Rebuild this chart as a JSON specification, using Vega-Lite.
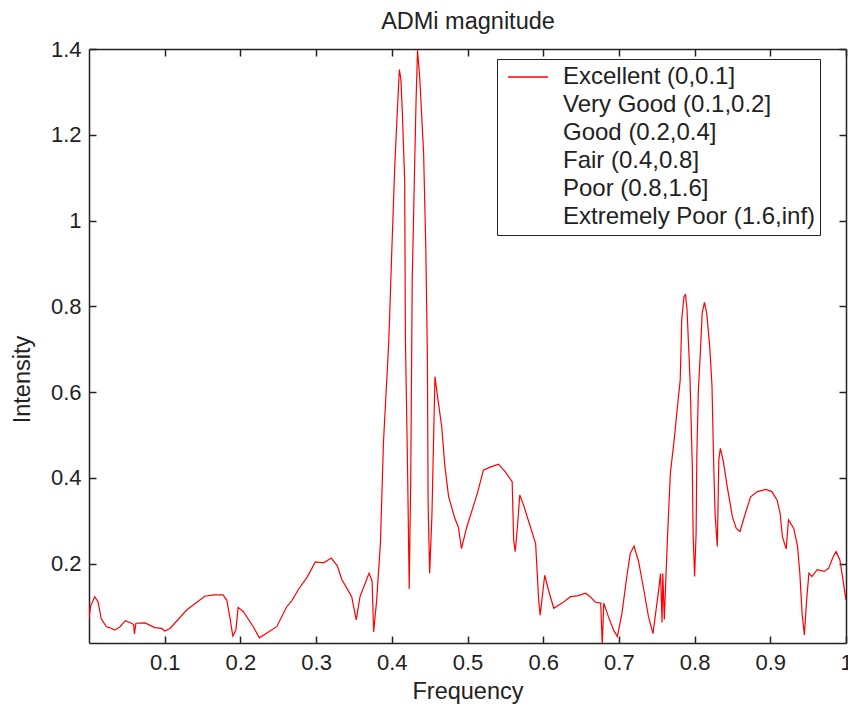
{
  "$schema": "https://vega.github.io/schema/vega-lite/v6.json",
  "width": 757,
  "height": 594,
  "autosize": "none",
  "padding": {"left": 89, "top": 49, "right": 2, "bottom": 64},
  "background": "white",
  "config": {
    "view": {"stroke": null},
    "font": "Liberation Sans",
    "axis": {"grid": false, "domainColor": "#222", "domainWidth": 1.5, "tickColor": "#222", "tickWidth": 1.5, "labelColor": "#222", "labelFontSize": 22, "titleColor": "#222", "titleFontSize": 23.5, "titleFontWeight": "normal", "labelFont": "Liberation Sans", "titleFont": "Liberation Sans"}
  },
  "data": {"values": [
    {"f":0.000,"v":0.072,"s":"Excellent (0,0.1]"},
    {"f":0.002,"v":0.100,"s":"Excellent (0,0.1]"},
    {"f":0.0075,"v":0.123,"s":"Excellent (0,0.1]"},
    {"f":0.012,"v":0.111,"s":"Excellent (0,0.1]"},
    {"f":0.016,"v":0.072,"s":"Excellent (0,0.1]"},
    {"f":0.023,"v":0.053,"s":"Excellent (0,0.1]"},
    {"f":0.027,"v":0.051,"s":"Excellent (0,0.1]"},
    {"f":0.034,"v":0.045,"s":"Excellent (0,0.1]"},
    {"f":0.041,"v":0.053,"s":"Excellent (0,0.1]"},
    {"f":0.048,"v":0.067,"s":"Excellent (0,0.1]"},
    {"f":0.056,"v":0.061,"s":"Excellent (0,0.1]"},
    {"f":0.059,"v":0.058,"s":"Excellent (0,0.1]"},
    {"f":0.060,"v":0.036,"s":"Excellent (0,0.1]"},
    {"f":0.062,"v":0.061,"s":"Excellent (0,0.1]"},
    {"f":0.074,"v":0.062,"s":"Excellent (0,0.1]"},
    {"f":0.087,"v":0.051,"s":"Excellent (0,0.1]"},
    {"f":0.096,"v":0.049,"s":"Excellent (0,0.1]"},
    {"f":0.100,"v":0.043,"s":"Excellent (0,0.1]"},
    {"f":0.107,"v":0.049,"s":"Excellent (0,0.1]"},
    {"f":0.129,"v":0.092,"s":"Excellent (0,0.1]"},
    {"f":0.153,"v":0.124,"s":"Excellent (0,0.1]"},
    {"f":0.165,"v":0.127,"s":"Excellent (0,0.1]"},
    {"f":0.177,"v":0.127,"s":"Excellent (0,0.1]"},
    {"f":0.182,"v":0.115,"s":"Excellent (0,0.1]"},
    {"f":0.186,"v":0.076,"s":"Excellent (0,0.1]"},
    {"f":0.190,"v":0.031,"s":"Excellent (0,0.1]"},
    {"f":0.194,"v":0.045,"s":"Excellent (0,0.1]"},
    {"f":0.197,"v":0.098,"s":"Excellent (0,0.1]"},
    {"f":0.204,"v":0.088,"s":"Excellent (0,0.1]"},
    {"f":0.217,"v":0.053,"s":"Excellent (0,0.1]"},
    {"f":0.225,"v":0.027,"s":"Excellent (0,0.1]"},
    {"f":0.234,"v":0.037,"s":"Excellent (0,0.1]"},
    {"f":0.248,"v":0.053,"s":"Excellent (0,0.1]"},
    {"f":0.261,"v":0.099,"s":"Excellent (0,0.1]"},
    {"f":0.268,"v":0.114,"s":"Excellent (0,0.1]"},
    {"f":0.277,"v":0.141,"s":"Excellent (0,0.1]"},
    {"f":0.288,"v":0.168,"s":"Excellent (0,0.1]"},
    {"f":0.299,"v":0.204,"s":"Excellent (0,0.1]"},
    {"f":0.310,"v":0.202,"s":"Excellent (0,0.1]"},
    {"f":0.320,"v":0.213,"s":"Excellent (0,0.1]"},
    {"f":0.328,"v":0.195,"s":"Excellent (0,0.1]"},
    {"f":0.334,"v":0.163,"s":"Excellent (0,0.1]"},
    {"f":0.347,"v":0.123,"s":"Excellent (0,0.1]"},
    {"f":0.353,"v":0.069,"s":"Excellent (0,0.1]"},
    {"f":0.358,"v":0.123,"s":"Excellent (0,0.1]"},
    {"f":0.370,"v":0.178,"s":"Excellent (0,0.1]"},
    {"f":0.374,"v":0.159,"s":"Excellent (0,0.1]"},
    {"f":0.376,"v":0.041,"s":"Excellent (0,0.1]"},
    {"f":0.380,"v":0.114,"s":"Excellent (0,0.1]"},
    {"f":0.385,"v":0.249,"s":"Excellent (0,0.1]"},
    {"f":0.389,"v":0.483,"s":"Excellent (0,0.1]"},
    {"f":0.396,"v":0.717,"s":"Excellent (0,0.1]"},
    {"f":0.400,"v":0.929,"s":"Excellent (0,0.1]"},
    {"f":0.404,"v":1.131,"s":"Excellent (0,0.1]"},
    {"f":0.407,"v":1.244,"s":"Excellent (0,0.1]"},
    {"f":0.410,"v":1.352,"s":"Excellent (0,0.1]"},
    {"f":0.412,"v":1.330,"s":"Excellent (0,0.1]"},
    {"f":0.414,"v":1.249,"s":"Excellent (0,0.1]"},
    {"f":0.417,"v":1.095,"s":"Excellent (0,0.1]"},
    {"f":0.418,"v":0.726,"s":"Excellent (0,0.1]"},
    {"f":0.421,"v":0.402,"s":"Excellent (0,0.1]"},
    {"f":0.423,"v":0.141,"s":"Excellent (0,0.1]"},
    {"f":0.425,"v":0.397,"s":"Excellent (0,0.1]"},
    {"f":0.427,"v":0.861,"s":"Excellent (0,0.1]"},
    {"f":0.430,"v":1.114,"s":"Excellent (0,0.1]"},
    {"f":0.432,"v":1.276,"s":"Excellent (0,0.1]"},
    {"f":0.434,"v":1.397,"s":"Excellent (0,0.1]"},
    {"f":0.437,"v":1.330,"s":"Excellent (0,0.1]"},
    {"f":0.442,"v":1.159,"s":"Excellent (0,0.1]"},
    {"f":0.445,"v":0.929,"s":"Excellent (0,0.1]"},
    {"f":0.447,"v":0.681,"s":"Excellent (0,0.1]"},
    {"f":0.448,"v":0.339,"s":"Excellent (0,0.1]"},
    {"f":0.450,"v":0.177,"s":"Excellent (0,0.1]"},
    {"f":0.453,"v":0.312,"s":"Excellent (0,0.1]"},
    {"f":0.455,"v":0.474,"s":"Excellent (0,0.1]"},
    {"f":0.457,"v":0.636,"s":"Excellent (0,0.1]"},
    {"f":0.461,"v":0.582,"s":"Excellent (0,0.1]"},
    {"f":0.466,"v":0.519,"s":"Excellent (0,0.1]"},
    {"f":0.470,"v":0.429,"s":"Excellent (0,0.1]"},
    {"f":0.475,"v":0.357,"s":"Excellent (0,0.1]"},
    {"f":0.483,"v":0.307,"s":"Excellent (0,0.1]"},
    {"f":0.488,"v":0.285,"s":"Excellent (0,0.1]"},
    {"f":0.492,"v":0.235,"s":"Excellent (0,0.1]"},
    {"f":0.499,"v":0.285,"s":"Excellent (0,0.1]"},
    {"f":0.507,"v":0.330,"s":"Excellent (0,0.1]"},
    {"f":0.513,"v":0.364,"s":"Excellent (0,0.1]"},
    {"f":0.521,"v":0.418,"s":"Excellent (0,0.1]"},
    {"f":0.530,"v":0.425,"s":"Excellent (0,0.1]"},
    {"f":0.541,"v":0.432,"s":"Excellent (0,0.1]"},
    {"f":0.550,"v":0.414,"s":"Excellent (0,0.1]"},
    {"f":0.559,"v":0.391,"s":"Excellent (0,0.1]"},
    {"f":0.561,"v":0.255,"s":"Excellent (0,0.1]"},
    {"f":0.563,"v":0.228,"s":"Excellent (0,0.1]"},
    {"f":0.566,"v":0.286,"s":"Excellent (0,0.1]"},
    {"f":0.569,"v":0.360,"s":"Excellent (0,0.1]"},
    {"f":0.574,"v":0.337,"s":"Excellent (0,0.1]"},
    {"f":0.583,"v":0.286,"s":"Excellent (0,0.1]"},
    {"f":0.590,"v":0.247,"s":"Excellent (0,0.1]"},
    {"f":0.594,"v":0.115,"s":"Excellent (0,0.1]"},
    {"f":0.596,"v":0.080,"s":"Excellent (0,0.1]"},
    {"f":0.602,"v":0.173,"s":"Excellent (0,0.1]"},
    {"f":0.607,"v":0.138,"s":"Excellent (0,0.1]"},
    {"f":0.614,"v":0.096,"s":"Excellent (0,0.1]"},
    {"f":0.625,"v":0.108,"s":"Excellent (0,0.1]"},
    {"f":0.636,"v":0.123,"s":"Excellent (0,0.1]"},
    {"f":0.645,"v":0.125,"s":"Excellent (0,0.1]"},
    {"f":0.656,"v":0.131,"s":"Excellent (0,0.1]"},
    {"f":0.662,"v":0.123,"s":"Excellent (0,0.1]"},
    {"f":0.669,"v":0.110,"s":"Excellent (0,0.1]"},
    {"f":0.676,"v":0.108,"s":"Excellent (0,0.1]"},
    {"f":0.678,"v":0.010,"s":"Excellent (0,0.1]"},
    {"f":0.680,"v":0.108,"s":"Excellent (0,0.1]"},
    {"f":0.686,"v":0.077,"s":"Excellent (0,0.1]"},
    {"f":0.693,"v":0.045,"s":"Excellent (0,0.1]"},
    {"f":0.698,"v":0.030,"s":"Excellent (0,0.1]"},
    {"f":0.704,"v":0.084,"s":"Excellent (0,0.1]"},
    {"f":0.711,"v":0.177,"s":"Excellent (0,0.1]"},
    {"f":0.715,"v":0.224,"s":"Excellent (0,0.1]"},
    {"f":0.720,"v":0.241,"s":"Excellent (0,0.1]"},
    {"f":0.726,"v":0.205,"s":"Excellent (0,0.1]"},
    {"f":0.733,"v":0.138,"s":"Excellent (0,0.1]"},
    {"f":0.739,"v":0.077,"s":"Excellent (0,0.1]"},
    {"f":0.745,"v":0.037,"s":"Excellent (0,0.1]"},
    {"f":0.748,"v":0.077,"s":"Excellent (0,0.1]"},
    {"f":0.753,"v":0.146,"s":"Excellent (0,0.1]"},
    {"f":0.755,"v":0.177,"s":"Excellent (0,0.1]"},
    {"f":0.757,"v":0.063,"s":"Excellent (0,0.1]"},
    {"f":0.758,"v":0.177,"s":"Excellent (0,0.1]"},
    {"f":0.760,"v":0.070,"s":"Excellent (0,0.1]"},
    {"f":0.764,"v":0.255,"s":"Excellent (0,0.1]"},
    {"f":0.768,"v":0.411,"s":"Excellent (0,0.1]"},
    {"f":0.773,"v":0.488,"s":"Excellent (0,0.1]"},
    {"f":0.777,"v":0.560,"s":"Excellent (0,0.1]"},
    {"f":0.781,"v":0.628,"s":"Excellent (0,0.1]"},
    {"f":0.783,"v":0.768,"s":"Excellent (0,0.1]"},
    {"f":0.786,"v":0.823,"s":"Excellent (0,0.1]"},
    {"f":0.788,"v":0.827,"s":"Excellent (0,0.1]"},
    {"f":0.790,"v":0.792,"s":"Excellent (0,0.1]"},
    {"f":0.794,"v":0.628,"s":"Excellent (0,0.1]"},
    {"f":0.797,"v":0.426,"s":"Excellent (0,0.1]"},
    {"f":0.798,"v":0.271,"s":"Excellent (0,0.1]"},
    {"f":0.800,"v":0.170,"s":"Excellent (0,0.1]"},
    {"f":0.802,"v":0.271,"s":"Excellent (0,0.1]"},
    {"f":0.803,"v":0.457,"s":"Excellent (0,0.1]"},
    {"f":0.805,"v":0.605,"s":"Excellent (0,0.1]"},
    {"f":0.808,"v":0.706,"s":"Excellent (0,0.1]"},
    {"f":0.810,"v":0.784,"s":"Excellent (0,0.1]"},
    {"f":0.813,"v":0.809,"s":"Excellent (0,0.1]"},
    {"f":0.816,"v":0.784,"s":"Excellent (0,0.1]"},
    {"f":0.820,"v":0.706,"s":"Excellent (0,0.1]"},
    {"f":0.823,"v":0.613,"s":"Excellent (0,0.1]"},
    {"f":0.825,"v":0.449,"s":"Excellent (0,0.1]"},
    {"f":0.827,"v":0.317,"s":"Excellent (0,0.1]"},
    {"f":0.830,"v":0.240,"s":"Excellent (0,0.1]"},
    {"f":0.832,"v":0.442,"s":"Excellent (0,0.1]"},
    {"f":0.834,"v":0.469,"s":"Excellent (0,0.1]"},
    {"f":0.838,"v":0.438,"s":"Excellent (0,0.1]"},
    {"f":0.843,"v":0.380,"s":"Excellent (0,0.1]"},
    {"f":0.850,"v":0.309,"s":"Excellent (0,0.1]"},
    {"f":0.855,"v":0.282,"s":"Excellent (0,0.1]"},
    {"f":0.860,"v":0.275,"s":"Excellent (0,0.1]"},
    {"f":0.867,"v":0.317,"s":"Excellent (0,0.1]"},
    {"f":0.874,"v":0.356,"s":"Excellent (0,0.1]"},
    {"f":0.883,"v":0.368,"s":"Excellent (0,0.1]"},
    {"f":0.894,"v":0.373,"s":"Excellent (0,0.1]"},
    {"f":0.902,"v":0.368,"s":"Excellent (0,0.1]"},
    {"f":0.909,"v":0.348,"s":"Excellent (0,0.1]"},
    {"f":0.913,"v":0.317,"s":"Excellent (0,0.1]"},
    {"f":0.916,"v":0.263,"s":"Excellent (0,0.1]"},
    {"f":0.921,"v":0.234,"s":"Excellent (0,0.1]"},
    {"f":0.924,"v":0.302,"s":"Excellent (0,0.1]"},
    {"f":0.931,"v":0.282,"s":"Excellent (0,0.1]"},
    {"f":0.936,"v":0.240,"s":"Excellent (0,0.1]"},
    {"f":0.939,"v":0.178,"s":"Excellent (0,0.1]"},
    {"f":0.942,"v":0.084,"s":"Excellent (0,0.1]"},
    {"f":0.945,"v":0.034,"s":"Excellent (0,0.1]"},
    {"f":0.948,"v":0.115,"s":"Excellent (0,0.1]"},
    {"f":0.951,"v":0.178,"s":"Excellent (0,0.1]"},
    {"f":0.955,"v":0.170,"s":"Excellent (0,0.1]"},
    {"f":0.962,"v":0.186,"s":"Excellent (0,0.1]"},
    {"f":0.971,"v":0.182,"s":"Excellent (0,0.1]"},
    {"f":0.977,"v":0.189,"s":"Excellent (0,0.1]"},
    {"f":0.983,"v":0.216,"s":"Excellent (0,0.1]"},
    {"f":0.987,"v":0.228,"s":"Excellent (0,0.1]"},
    {"f":0.992,"v":0.208,"s":"Excellent (0,0.1]"},
    {"f":0.996,"v":0.162,"s":"Excellent (0,0.1]"},
    {"f":1.000,"v":0.115,"s":"Excellent (0,0.1]"}
  ]},
  "layer": [
    {
      "mark": {"type": "line", "strokeWidth": 1.2, "clip": true},
      "encoding": {
        "x": {"field": "f", "type": "quantitative", "scale": {"domain": [0, 1], "nice": false, "zero": false},
              "axis": {"orient": "bottom", "values": [0.1,0.2,0.3,0.4,0.5,0.6,0.7,0.8,0.9,1], "format": "~g", "tickSize": -7, "labelPadding": 16, "labelFlush": false, "title": "Frequency", "titlePadding": 6}},
        "y": {"field": "v", "type": "quantitative", "scale": {"domain": [0.015, 1.4], "nice": false, "zero": false},
              "axis": {"orient": "left", "values": [0.2,0.4,0.6,0.8,1,1.2,1.4], "format": "~g", "tickSize": -7, "labelPadding": 15, "labelFlush": false, "title": "Intensity", "titlePadding": 16, "titleY": 330}},
        "color": {"field": "s", "type": "nominal",
                  "scale": {"domain": ["Excellent (0,0.1]", "Very Good (0.1,0.2]", "Good (0.2,0.4]", "Fair (0.4,0.8]", "Poor (0.8,1.6]", "Extremely Poor (1.6,inf)"],
                            "range": ["#ff0000", "transparent", "transparent", "transparent", "transparent", "transparent"]},
                  "legend": {"orient": "none", "legendX": 408, "legendY": 10, "title": null, "symbolType": "stroke", "symbolSize": 1600, "symbolStrokeWidth": 1.5, "symbolOffset": 6,
                             "labelFontSize": 24, "labelColor": "#222", "labelFont": "Liberation Sans", "labelLimit": 500, "fillColor": "white", "strokeColor": "#222", "padding": 4, "rowPadding": 0, "clipHeight": 28, "labelOffset": 14}}
      }
    },
    {
      "mark": {"type": "line", "strokeOpacity": 0},
      "encoding": {
        "x": {"field": "f", "type": "quantitative",
              "axis": {"orient": "top", "values": [0.1,0.2,0.3,0.4,0.5,0.6,0.7,0.8,0.9,1], "labels": false, "tickSize": -7, "title": "ADMi magnitude", "titlePadding": 15}},
        "y": {"field": "v", "type": "quantitative",
              "axis": {"orient": "right", "values": [0.2,0.4,0.6,0.8,1,1.2,1.4], "labels": false, "tickSize": -7, "title": null}}
      }
    }
  ],
  "resolve": {"axis": {"x": "independent", "y": "independent"}}
}
